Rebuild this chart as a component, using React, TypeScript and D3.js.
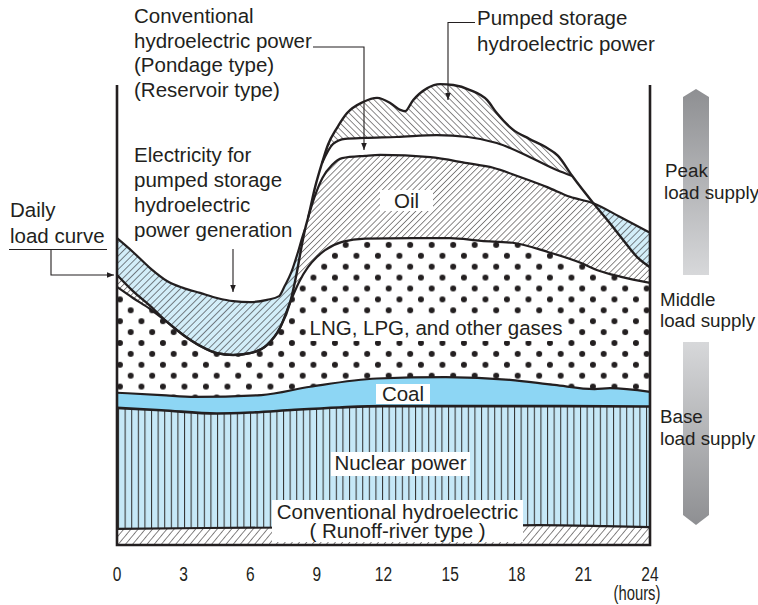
import React from 'react';
import * as d3 from 'd3';

type Pt = [number, number];

// hour ticks on the x axis
const hourTicks = [0, 3, 6, 9, 12, 15, 18, 21, 24];

// boundary curves, [hour, relative power]
const runoffTop: Pt[] = [[0, 3.5], [4, 3.7], [8, 3.8], [12, 3.9], [16, 4.1], [19, 4.3], [22, 4.1], [24, 3.9]];
const nuclearTop: Pt[] = [[0, 29.8], [2, 29.3], [4.5, 28.6], [6, 28.8], [8, 29.4], [10, 29.9], [12, 30.2], [16, 30.2], [20, 30.2], [24, 30.1]];
const coalTop: Pt[] = [[0, 33.1], [2, 32.6], [3.5, 32.2], [6.5, 32.6], [8.7, 34.4], [11.7, 36.2], [14.8, 36.5], [17.7, 35.9], [19.7, 34.8], [21.5, 33.9], [22.2, 34.1], [24, 33.3]];
const lngTop: Pt[] = [[0, 56.1], [0.72, 53.7], [1.49, 51.3], [2.25, 48.5], [2.97, 45.7], [3.74, 43.3], [4.5, 41.7], [5.23, 41.3], [5.99, 41.7], [6.76, 43.5], [7.34, 47.2], [7.8, 52.8], [8.2, 57.2], [8.6, 60.4], [9.0, 62.6], [9.37, 64.1], [10.14, 65.9], [11.17, 66.6], [13.33, 66.7], [15, 66.7], [16.4, 66.1], [17.8, 65.7], [19.4, 63.7], [20.9, 61.3], [21.6, 59.8], [22.7, 58.3], [24, 57.0]];
const loadCurve: Pt[] = [[0, 58.7], [0.72, 55.2], [1.49, 52.0], [2.25, 48.5], [2.97, 45.7], [3.74, 43.3], [4.5, 41.7], [5.23, 41.3], [5.99, 41.7], [6.76, 43.5], [7.34, 47.2], [7.8, 52.8], [8.1, 59.3], [8.3, 64.6], [8.47, 68.7], [8.6, 71.1], [8.92, 77.8], [9.23, 83.0], [9.5, 87.0], [9.91, 90.7], [10.36, 93.9], [11.08, 96.3], [11.71, 97.2], [12.3, 96.1], [12.75, 94.6], [12.97, 94.3], [13.33, 96.7], [13.96, 99.3], [14.55, 100.2], [15.14, 100.0], [15.9, 98.9], [16.67, 96.7], [17.1, 93.9], [17.8, 90.4], [18.56, 88.3], [19.3, 86.5], [19.86, 84.6], [20.5, 80.2], [21.45, 74.3], [22.07, 70.7], [22.79, 66.3], [23.42, 62.6], [24, 60.4]];
const morningSupply: Pt[] = [[0, 66.7], [0.72, 63.7], [1.49, 60.2], [2.25, 57.4], [2.97, 55.9], [3.74, 54.8], [4.5, 53.7], [5.23, 53.0], [5.99, 52.8], [6.76, 53.3], [7.3, 54.1], [7.55, 56.3], [7.85, 59.3], [8.15, 63.7], [8.35, 67.0], [8.47, 68.7]];
const oilTop: Pt[] = [[8.6, 71.1], [8.92, 76.0], [9.25, 79.8], [9.68, 82.6], [10.14, 84.1], [11.17, 84.6], [11.85, 84.8], [14.1, 84.3], [15.77, 83.0], [16.94, 82.0], [18.15, 80.0], [19.37, 77.8], [20.4, 75.7], [21.45, 74.3], [22.66, 71.3], [24, 67.9]];
const pondageTop: Pt[] = [[9.23, 83.0], [9.73, 87.2], [10.27, 88.3], [11.17, 88.5], [12.6, 88.7], [14.4, 89.1], [15.8, 88.7], [17.1, 87.4], [18.6, 84.3], [19.8, 81.5], [20.5, 80.2]];

// text
const topLeftLines = ['Conventional', 'hydroelectric power', '(Pondage type)', '(Reservoir type)'];
const pumpedLines = ['Pumped storage', 'hydroelectric power'];
const electricityLines = ['Electricity for', 'pumped storage', 'hydroelectric', 'power generation'];
const dailyLines = ['Daily', 'load curve'];
const runoffLines = ['Conventional hydroelectric', '( Runoff-river type )'];

const INK = '#231f20';
const FONT = "'Liberation Sans', Arial, Helvetica, sans-serif";

export default function App() {
  const x = d3.scaleLinear().domain([0, 24]).range([117, 650]);
  const y = d3.scaleLinear().domain([0, 100]).range([545, 85]);
  const line = d3.line<Pt>().x(d => x(d[0])).y(d => y(d[1])).curve(d3.curveMonotoneX);
  const areaDown = d3.area<Pt>().x(d => x(d[0])).y0(y(0)).y1(d => y(d[1])).curve(d3.curveMonotoneX);

  const pondStart = pondageTop[0][0];
  const pondEnd = pondageTop[pondageTop.length - 1][0];
  const abovePondage = `${line(pondageTop)}L${x(pondEnd)},0L${x(pondStart)},0Z`;
  const oilStart = oilTop[0][0];

  const curveStroke = { fill: 'none', stroke: INK, strokeLinejoin: 'round' as const };

  return (
    <svg width={758} height={605} style={{ position: 'absolute', left: 0, top: 0, background: '#fff' }} fontFamily={FONT}>
      <defs>
        <pattern id="oilHatch" patternUnits="userSpaceOnUse" width={4.3} height={4} patternTransform="rotate(45)">
          <rect width={4.3} height={4} fill="#fff" />
          <line x1={0} y1={0} x2={0} y2={4} stroke={INK} strokeWidth={1.05} />
        </pattern>
        <pattern id="pumpHatch" patternUnits="userSpaceOnUse" width={4.5} height={4} patternTransform="rotate(-45)">
          <rect width={4.5} height={4} fill="#fff" />
          <line x1={0} y1={0} x2={0} y2={4} stroke={INK} strokeWidth={1.05} />
        </pattern>
        <pattern id="blueHatch" patternUnits="userSpaceOnUse" width={4.8} height={4} patternTransform="rotate(45)">
          <rect width={4.8} height={4} fill="#d3eef9" />
          <line x1={0} y1={0} x2={0} y2={4} stroke={INK} strokeWidth={1.1} />
        </pattern>
        <pattern id="runoffHatch" patternUnits="userSpaceOnUse" width={5.5} height={4} patternTransform="rotate(40)">
          <rect width={5.5} height={4} fill="#fff" />
          <line x1={0} y1={0} x2={0} y2={4} stroke={INK} strokeWidth={1.1} />
        </pattern>
        <pattern id="nuclearLines" patternUnits="userSpaceOnUse" width={6.6} height={10} x={118}>
          <rect width={6.6} height={10} fill="#c6e8f7" />
          <line x1={0.5} y1={0} x2={0.5} y2={10} stroke="#333" strokeWidth={1.1} />
        </pattern>
        <pattern id="dots" patternUnits="userSpaceOnUse" width={21.5} height={21.8} x={130.7} y={375.7}>
          <rect width={21.5} height={21.8} fill="#fff" />
          <circle cx={0} cy={0} r={3} fill={INK} />
          <circle cx={21.5} cy={0} r={3} fill={INK} />
          <circle cx={0} cy={21.8} r={3} fill={INK} />
          <circle cx={21.5} cy={21.8} r={3} fill={INK} />
          <circle cx={10.75} cy={10.9} r={3} fill={INK} />
        </pattern>
        <clipPath id="underLoad">
          <path d={areaDown(loadCurve) || ''} />
        </clipPath>
        <clipPath id="abovePondage">
          <path d={abovePondage} />
        </clipPath>
        <linearGradient id="gradDown" x1="0" y1="0" x2="0" y2="1">
          <stop offset="0" stopColor="#8e8f92" />
          <stop offset="1" stopColor="#d7d8da" />
        </linearGradient>
        <linearGradient id="gradUp" x1="0" y1="0" x2="0" y2="1">
          <stop offset="0" stopColor="#d7d8da" />
          <stop offset="1" stopColor="#8e8f92" />
        </linearGradient>
        <marker id="arrow" viewBox="0 0 10 10" refX={10} refY={5} markerWidth={8} markerHeight={7} markerUnits="userSpaceOnUse" orient="auto">
          <path d="M0,1L10,5L0,9Z" fill={INK} />
        </marker>
      </defs>

      {/* pumping supply above the load at night */}
      <path d={areaDown(morningSupply) || ''} fill="url(#blueHatch)" />
      <path d={areaDown(oilTop) || ''} fill="url(#blueHatch)" />
      {/* conventional hydro (pondage) white band */}
      <path d={areaDown(loadCurve) || ''} fill="#fff" />
      {/* pumped storage generation */}
      <path d={areaDown(loadCurve) || ''} fill="url(#pumpHatch)" clipPath="url(#abovePondage)" />
      {/* oil */}
      <g clipPath="url(#underLoad)">
        <rect x={x(0)} y={0} width={x(oilStart) - x(0)} height={y(0)} fill="url(#oilHatch)" />
        <path d={areaDown(oilTop) || ''} fill="url(#oilHatch)" />
      </g>
      {/* LNG */}
      <path d={areaDown(lngTop) || ''} fill="url(#dots)" />
      {/* coal */}
      <path d={areaDown(coalTop) || ''} fill="#8dd6f4" />
      {/* nuclear */}
      <path d={areaDown(nuclearTop) || ''} fill="url(#nuclearLines)" />
      {/* runoff-river hydro */}
      <path d={areaDown(runoffTop) || ''} fill="url(#runoffHatch)" />

      {/* boundary lines */}
      <path d={line(runoffTop) || ''} {...curveStroke} strokeWidth={2.2} />
      <path d={line(nuclearTop) || ''} {...curveStroke} strokeWidth={2.6} />
      <path d={line(coalTop) || ''} {...curveStroke} strokeWidth={2.2} />
      <path d={line(lngTop) || ''} {...curveStroke} strokeWidth={2.2} />
      <path d={line(oilTop) || ''} {...curveStroke} strokeWidth={2.2} />
      <path d={line(pondageTop) || ''} {...curveStroke} strokeWidth={2.2} />
      <path d={line(morningSupply) || ''} {...curveStroke} strokeWidth={2.2} />
      <path d={line(loadCurve) || ''} {...curveStroke} strokeWidth={2.4} />

      {/* frame */}
      <path d={`M${x(0)},85V${y(0)}H${x(24)}V85`} fill="none" stroke={INK} strokeWidth={2.6} />

      {/* label boxes */}
      <g fontSize={20.5} fill={INK}>
        <rect x={380} y={190} width={53} height={21} fill="#fff" />
        <text x={406.5} y={208} textAnchor="middle">Oil</text>
        <rect x={306} y={316} width={260} height={25} fill="#fff" />
        <text x={436} y={335} textAnchor="middle">LNG, LPG, and other gases</text>
        <rect x={376} y={384} width={54} height={20} fill="#fff" />
        <text x={403} y={400.5} textAnchor="middle">Coal</text>
        <rect x={331} y={452} width={139} height={24} fill="#fff" />
        <text x={400.5} y={470} textAnchor="middle">Nuclear power</text>
        <rect x={272} y={500} width={251} height={42} fill="#fff" />
        {runoffLines.map((t, i) => (
          <text key={t} x={397.5} y={519 + i * 18.5} textAnchor="middle">{t}</text>
        ))}
      </g>

      {/* annotations */}
      <g fontSize={20.5} fill={INK}>
        {topLeftLines.map((t, i) => (
          <text key={t} x={134} y={23 + i * 24.7}>{t}</text>
        ))}
        {pumpedLines.map((t, i) => (
          <text key={t + i} x={477} y={25 + i * 26}>{t}</text>
        ))}
        {electricityLines.map((t, i) => (
          <text key={t} x={134} y={162 + i * 25}>{t}</text>
        ))}
        {dailyLines.map((t, i) => (
          <text key={t} x={10} y={217 + i * 25.5}>{t}</text>
        ))}
      </g>
      <g fill="none" stroke={INK} strokeWidth={1.1}>
        <path d="M313,47H364V150" markerEnd="url(#arrow)" />
        <path d="M475,22.5H448V100" markerEnd="url(#arrow)" />
        <path d="M233,249V292" markerEnd="url(#arrow)" />
        <path d="M9,249.5H107" />
        <path d="M51,249.5V275H114" markerEnd="url(#arrow)" />
      </g>

      {/* supply arrows */}
      <path d="M683,97L696,89L709,97V275H683Z" fill="url(#gradDown)" />
      <path d="M683,342H709V515L696,525L683,515Z" fill="url(#gradUp)" />
      <g fontSize={18.8} fill={INK}>
        <text x={665} y={177}>Peak</text>
        <text x={664} y={199}>load supply</text>
        <text x={660} y={306}>Middle</text>
        <text x={660} y={327}>load supply</text>
        <text x={660} y={423}>Base</text>
        <text x={660} y={445}>load supply</text>
      </g>

      {/* x axis labels */}
      <g fontSize={21} fill={INK}>
        {hourTicks.map(h => (
          <text key={h} transform={`translate(${x(h)},581) scale(0.74,1)`} textAnchor="middle">{h}</text>
        ))}
        <text transform="translate(637,600) scale(0.74,1)" textAnchor="middle" fontSize={20}>(hours)</text>
      </g>
    </svg>
  );
}
